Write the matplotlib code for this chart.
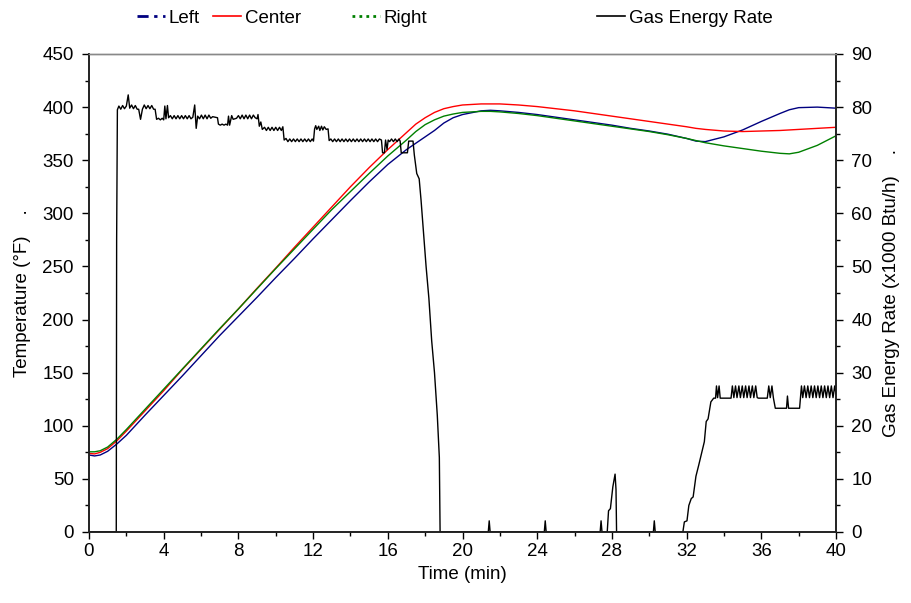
import numpy as np
from matplotlib import pyplot as plt
from matplotlib.lines import Line2D
from matplotlib.ticker import MultipleLocator

plt.rcParams['font.family'] = ['Liberation Sans', 'DejaVu Sans']
plt.rcParams['font.size'] = 13.5

# temperature readings (deg F) vs time (min)
temp_time = [0, 0.3, 0.6, 1, 1.5, 2, 3, 4, 5, 6, 7, 8, 9, 10, 11, 12, 13, 14, 15, 16,
             16.5, 17, 17.5, 18, 18.5, 19, 19.5, 20, 21, 21.5, 22, 23, 24, 25, 26, 27,
             28, 29, 30, 31, 32, 32.5, 33, 34, 35, 36, 37, 37.5, 38, 39, 40]
left_temp = [72.5, 71.6, 72.5, 76, 83, 91, 110, 128.5, 147, 166, 185, 203, 221, 239.5,
             257.5, 276, 294, 312, 329.5, 346, 353, 360, 366, 372, 378, 385, 390, 393,
             396.5, 397, 396.5, 395, 393, 390.5, 388, 385.5, 383, 380, 377.5, 374.5,
             370.5, 368, 367.5, 372, 378.5, 386.5, 394, 397.5, 399.5, 400, 399]
center_temp = [74, 73.5, 75, 78.5, 86, 95, 114, 133, 153, 172, 191, 210, 229.5, 248.5,
               268, 287, 306, 325, 343, 360, 368, 376, 384, 390, 395, 398.5, 400.5, 402,
               403, 403, 403, 402, 400.5, 398.5, 396.5, 394, 391.5, 389, 386.5, 384,
               381.5, 380, 379, 377.5, 377, 377.5, 378, 378.5, 379, 380, 381]
right_temp = [75.5, 75.5, 76.5, 80, 87.5, 96.5, 115.5, 134.5, 153.5, 172.5, 191.5, 210,
              229, 248, 266.5, 285, 303.5, 320.5, 337.5, 354, 361.5, 369, 377, 383.5,
              388, 391.5, 393.5, 395, 396, 396, 395.5, 394, 392, 389.5, 387, 384.5, 382,
              379.5, 377, 374, 370.5, 368.5, 366.5, 363.5, 361, 358.5, 356.5, 356,
              357.5, 364, 373]

# gas energy rate (x1000 Btu/h)
gas_time = [0, 1.46, 1.48, 1.52, 1.6, 1.7, 1.8, 1.9, 2.0, 2.1, 2.18, 2.28, 2.38, 2.48,
            2.58, 2.66, 2.76, 2.86, 2.96, 3.06, 3.16, 3.26, 3.36, 3.46, 3.54, 3.62, 3.72,
            3.82, 3.92, 4.0, 4.06, 4.12, 4.2, 4.26, 4.36, 4.46, 4.56, 4.66, 4.76, 4.86,
            4.96, 5.06, 5.16, 5.26, 5.36, 5.46, 5.56, 5.66, 5.74, 5.82, 5.92, 6.02, 6.12,
            6.22, 6.32, 6.42, 6.52, 6.62, 6.88, 6.93, 7.03, 7.13, 7.23, 7.33, 7.42, 7.47,
            7.53, 7.64, 7.72, 7.9, 8.0, 8.1, 8.2, 8.3, 8.4, 8.5, 8.6, 8.7, 8.8, 8.9, 9.0,
            9.05, 9.12, 9.2, 9.28, 9.4, 9.5, 9.6, 9.7, 9.8, 9.9, 10.0, 10.1, 10.2, 10.3,
            10.38, 10.45, 10.55, 10.65, 10.75, 10.85, 10.95, 11.05, 11.15, 11.25, 11.35,
            11.45, 11.55, 11.65, 11.75, 11.85, 11.95, 12.02, 12.08, 12.14, 12.2, 12.3,
            12.36, 12.45, 12.52, 12.6, 12.7, 12.8, 12.86, 12.95, 13.05, 13.15, 13.25,
            13.35, 13.45, 13.55, 13.65, 13.75, 13.85, 13.95, 14.05, 14.15, 14.25, 14.35,
            14.45, 14.55, 14.65, 14.75, 14.85, 14.95, 15.05, 15.15, 15.25, 15.35, 15.45,
            15.55, 15.66, 15.72, 15.82, 15.88, 15.96, 16.02, 16.1, 16.2, 16.3, 16.4,
            16.5, 16.6, 16.66, 16.72, 17.05, 17.12, 17.35, 17.42, 17.55, 17.68, 17.78,
            17.9, 18.05, 18.2, 18.35, 18.5, 18.65, 18.76, 18.8,
            21.38, 21.43, 21.48, 24.38, 24.43, 24.48, 27.37, 27.42, 27.47, 27.75, 27.82,
            27.92, 28.05, 28.17, 28.22, 28.25, 30.22, 30.27, 30.32, 31.8, 31.88, 32.02,
            32.12, 32.25, 32.35, 32.5, 32.65, 32.8, 32.95, 33.05, 33.15, 33.3, 33.45,
            33.55, 33.6, 33.66, 33.74, 33.8, 34.38, 34.45, 34.53, 34.62, 34.7, 34.8,
            34.88, 34.98, 35.06, 35.16, 35.24, 35.34, 35.42, 35.52, 35.6, 35.7, 35.78,
            35.85, 36.32, 36.4, 36.48, 36.57, 36.65, 36.75, 37.35, 37.4, 37.46, 38.05,
            38.15, 38.22, 38.31, 38.4, 38.49, 38.58, 38.67, 38.76, 38.85, 38.94, 39.03,
            39.12, 39.21, 39.3, 39.39, 39.48, 39.57, 39.66, 39.75, 39.84, 39.93, 40.0]
gas_rate = [0, 0, 55, 79.5, 80.2, 79.6, 80.3, 79.7, 80.2, 82.3, 79.8, 80.4, 79.7, 80.3,
            79.6, 79.6, 77.7, 79.6, 80.4, 79.7, 80.3, 79.7, 80.3, 79.6, 79.6, 77.7, 77.9,
            77.6, 77.9, 77.6, 80.2, 77.8, 80.3, 78.0, 78.4, 77.8, 78.4, 77.8, 78.4, 77.8,
            78.4, 77.8, 78.4, 77.8, 78.4, 77.8, 78.1, 80.4, 76.0, 78.3, 77.8, 78.5, 77.8,
            78.5, 77.8, 78.5, 77.9, 78.2, 78.0, 76.8, 76.6, 76.8, 76.6, 76.8, 76.6, 78.3,
            76.6, 78.4, 77.7, 77.9, 78.4, 77.8, 78.5, 77.8, 78.5, 77.8, 78.5, 77.8, 78.5,
            78.0, 77.8, 78.6, 76.4, 77.2, 75.8, 76.2, 75.6, 76.2, 75.6, 76.2, 75.6, 76.2,
            75.6, 76.2, 75.6, 76.3, 73.8, 74.1, 73.5, 74.0, 73.5, 74.0, 73.5, 74.0, 73.5,
            74.0, 73.5, 74.0, 73.5, 74.0, 73.5, 74.0, 73.6, 75.9, 76.5, 75.8, 76.4, 75.6,
            76.4, 75.7, 76.3, 75.8, 75.9, 73.7, 74.0, 73.5, 74.0, 73.5, 74.0, 73.5, 74.0,
            73.5, 74.0, 73.5, 74.0, 73.5, 74.0, 73.5, 74.0, 73.5, 74.0, 73.5, 74.0, 73.5,
            74.0, 73.5, 74.0, 73.5, 74.0, 73.5, 74.0, 73.8, 71.4, 71.4, 73.8, 72.0, 73.8,
            73.5, 74.0, 73.5, 74.0, 73.5, 74.0, 73.6, 71.4, 71.4, 73.6, 73.6, 71.0, 67.5,
            66.5, 62.5, 57, 50, 44, 36, 30, 22, 14, 0,
            0, 2.1, 0, 0, 2.1, 0, 0, 2.1, 0, 0, 4.0,
            4.4, 8.5, 10.9, 8, 0, 0, 2.1, 0, 0, 1.9, 2.1,
            5, 6.3, 6.6, 10.5, 12.6, 14.8, 17.0, 20.8, 21.3, 24.5, 25.2,
            25.2, 27.5, 25.3, 27.5, 25.2, 25.2, 27.5, 25.3, 27.5, 25.3, 27.5,
            25.3, 27.5, 25.3, 27.5, 25.3, 27.5, 25.3, 27.5, 25.3, 27.5, 25.3,
            25.2, 25.2, 27.5, 25.3, 27.5, 25.2, 23.3, 23.3, 25.6, 23.3, 23.3,
            27.5, 25.3, 27.5, 25.3, 27.5, 25.3, 27.5, 25.3, 27.5, 25.3, 27.5,
            25.3, 27.5, 25.3, 27.5, 25.3, 27.5, 25.3, 27.5, 25.3, 27.5, 26.0]

navy = '#000080'
red = '#FF0000'
green = '#008000'

fig = plt.figure(figsize=(9.11, 6.03), dpi=100)
ax = fig.add_axes([89 / 911, 1 - 532 / 603, (836 - 89) / 911, (532 - 54) / 603])
ax.plot(temp_time, left_temp, color=navy, lw=1.0)
ax.plot(temp_time, center_temp, color=red, lw=1.0)
ax.plot(temp_time, right_temp, color=green, lw=1.0)
ax.set_xlim(0, 40)
ax.set_ylim(0, 450)
ax.xaxis.set_major_locator(MultipleLocator(4))
ax.xaxis.set_minor_locator(MultipleLocator(2))
ax.yaxis.set_major_locator(MultipleLocator(50))
ax.yaxis.set_minor_locator(MultipleLocator(25))
ax.set_xlabel('Time (min)', labelpad=4)
ax.set_ylabel('Temperature (\u00b0F)    .', labelpad=8)

ax2 = ax.twinx()
ax2.plot(gas_time, gas_rate, color='black', lw=1.0)
ax2.set_ylim(0, 90)
ax2.yaxis.set_major_locator(MultipleLocator(10))
ax2.yaxis.set_minor_locator(MultipleLocator(5))
ax2.set_ylabel('Gas Energy Rate (x1000 Btu/h)    .', labelpad=8)

for a in (ax, ax2):
    a.tick_params(which='major', direction='out', length=5, width=1, colors='black')
    a.tick_params(which='minor', direction='out', length=3, width=1)
    a.tick_params(axis='y', which='major', pad=6)
    for s in ('left', 'right', 'bottom'):
        a.spines[s].set_color('#222222')
        a.spines[s].set_linewidth(1.2)
    a.spines['top'].set_color('#888888')
    a.spines['top'].set_linewidth(1.0)
ax.tick_params(axis='x', which='major', pad=3)

# legend entries laid out across the top like the original
entries = [
    (Line2D([], [], color=navy, lw=2, linestyle=(0, (4, 2, 1.2, 2, 1.2, 2))), 'Left', 137),
    (Line2D([], [], color=red, lw=1.2), 'Center', 213),
    (Line2D([], [], color=green, lw=2, linestyle=(0, (1, 1.5))), 'Right', 352),
    (Line2D([], [], color='black', lw=1.2), 'Gas Energy Rate', 597),
]
for handle, label, xpix in entries:
    fig.legend([handle], [label], loc='center left', bbox_to_anchor=(xpix / 911, 1 - 18 / 603),
               frameon=False, borderpad=0, borderaxespad=0, handlelength=1.5,
               handletextpad=0.2, fontsize=13.5)

plt.savefig('out.png', dpi=100)
